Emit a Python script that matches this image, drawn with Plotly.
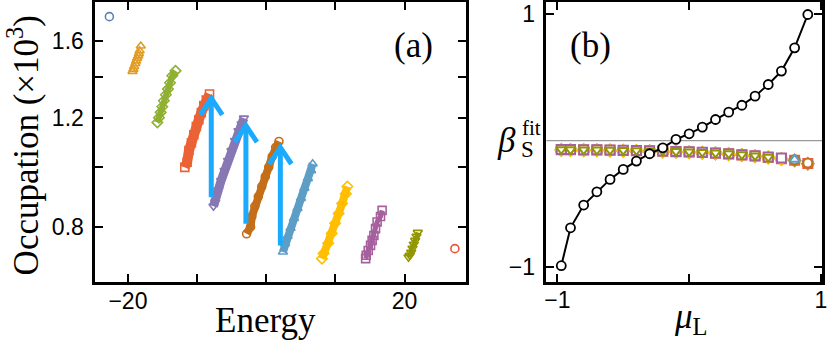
import plotly.graph_objects as go

# %% Panel (a) data: energy vs occupation (x10^3), one band per shell

colors = ["#5E81B5", "#E19C24", "#8FB032", "#EB6235", "#8778B3", "#C56E1A",
          "#5D9EC7", "#FFBF00", "#A5609D", "#929600", "#E95536"]
symbols = ["circle", "triangle-up", "diamond", "square", "triangle-down", "circle",
           "triangle-up", "diamond", "square", "triangle-down", "circle"]

energy_1 = [-22.68]
occ_1 = [1.751]

energy_2 = [-18.14, -18.31, -18.42, -18.52, -18.67, -18.81, -18.92, -19.10, -19.21, -19.33]
occ_2 = [1.570, 1.542, 1.526, 1.513, 1.500, 1.485, 1.471, 1.454, 1.440, 1.428]

energy_3 = [-13.12, -13.59, -13.91, -14.22, -14.51, -14.80, -15.03, -15.27, -15.51, -15.74]
occ_3 = [1.431, 1.405, 1.369, 1.337, 1.309, 1.280, 1.252, 1.226, 1.202, 1.181]

energy_4 = [-8.20, -8.67, -9.03, -9.39, -9.75, -10.11, -10.47, -10.82, -11.18, -11.44, -11.78]
occ_4 = [1.313, 1.284, 1.257, 1.225, 1.193, 1.163, 1.128, 1.095, 1.063, 1.018, 0.999]

energy_5 = [-3.23, -3.56, -4.01, -4.51, -5.02, -5.52, -6.02, -6.52, -6.95, -7.38, -7.63]
occ_5 = [1.200, 1.174, 1.145, 1.104, 1.063, 1.025, 0.987, 0.951, 0.917, 0.878, 0.864]

energy_6 = [1.84, 1.36, 0.86, 0.36, -0.14, -0.65, -1.15, -1.65, -2.08, -2.27, -2.84]
occ_6 = [1.100, 1.076, 1.040, 1.000, 0.965, 0.930, 0.896, 0.864, 0.832, 0.800, 0.780]

energy_7 = [6.71, 6.48, 6.02, 5.52, 5.02, 4.52, 4.01, 3.51, 3.08, 2.70, 2.41]
occ_7 = [1.012, 0.987, 0.958, 0.924, 0.890, 0.857, 0.826, 0.796, 0.773, 0.752, 0.729]

energy_8 = [11.73, 11.50, 10.97, 10.47, 9.96, 9.46, 8.96, 8.29, 8.06]
occ_8 = [0.930, 0.905, 0.873, 0.841, 0.811, 0.781, 0.753, 0.725, 0.711]

energy_9 = [16.75, 16.52, 16.03, 15.80, 15.56, 15.31, 15.08, 14.74, 14.45, 14.37]
occ_9 = [0.851, 0.832, 0.815, 0.795, 0.775, 0.761, 0.747, 0.733, 0.720, 0.711]

energy_10 = [21.91, 21.72, 21.53, 21.33, 21.15, 20.96, 20.76, 20.57]
occ_10 = [0.784, 0.773, 0.761, 0.750, 0.739, 0.728, 0.720, 0.715]

energy_11 = [27.27]
occ_11 = [0.738]

band_energy = [energy_1, energy_2, energy_3, energy_4, energy_5, energy_6,
               energy_7, energy_8, energy_9, energy_10, energy_11]
band_occ = [occ_1, occ_2, occ_3, occ_4, occ_5, occ_6,
            occ_7, occ_8, occ_9, occ_10, occ_11]
band_width = [0, 0, 6, 10, 9, 8, 8, 8, 5, 4, 0]

# blue arrows: energy, start occupation, tip occupation
arrow_energy = [-7.95, -2.94, 2.04]
arrow_start = [0.894, 0.810, 0.747]
arrow_tip = [1.292, 1.167, 1.076]

# %% Panel (b) data: beta_S^fit vs mu_L

mu_l = [-0.97, -0.9, -0.8, -0.7, -0.6, -0.5, -0.4, -0.3, -0.2, -0.1,
        0.0, 0.1, 0.2, 0.3, 0.4, 0.5, 0.6, 0.7, 0.8, 0.9]
beta_black = [-0.99, -0.69, -0.51, -0.405, -0.307, -0.228, -0.162, -0.104, -0.057, 0.01,
              0.054, 0.107, 0.167, 0.225, 0.28, 0.352, 0.444, 0.55, 0.734, 0.998]

beta_2 = [-0.076, -0.077, -0.078, -0.079, -0.080, -0.082, -0.084, -0.086, -0.088, -0.091,
          -0.094, -0.098, -0.103, -0.109, -0.116, -0.125, -0.136, -0.147, -0.160, -0.186]
beta_3 = [-0.074, -0.075, -0.076, -0.077, -0.078, -0.080, -0.082, -0.084, -0.086, -0.089,
          -0.092, -0.096, -0.101, -0.107, -0.114, -0.123, -0.134, -0.145, -0.157, -0.183]
beta_4 = [-0.072, -0.073, -0.074, -0.075, -0.077, -0.079, -0.081, -0.083, -0.085, -0.088,
          -0.091, -0.095, -0.100, -0.106, -0.113, -0.122, -0.133, -0.144, -0.155, -0.181]
beta_5 = [-0.071, -0.072, -0.073, -0.074, -0.076, -0.078, -0.080, -0.082, -0.084, -0.087,
          -0.090, -0.094, -0.099, -0.105, -0.112, -0.121, -0.132, -0.143, -0.154, -0.180]
beta_6 = [-0.070, -0.071, -0.072, -0.073, -0.075, -0.077, -0.079, -0.081, -0.083, -0.086,
          -0.089, -0.093, -0.098, -0.104, -0.111, -0.120, -0.131, -0.142, -0.152, -0.178]
beta_7 = [-0.069, -0.070, -0.071, -0.072, -0.074, -0.076, -0.078, -0.080, -0.082, -0.085,
          -0.088, -0.092, -0.097, -0.103, -0.110, -0.119, -0.130, -0.140, -0.149]
beta_8 = [-0.073, -0.074, -0.075, -0.076, -0.078, -0.080, -0.082, -0.084, -0.086, -0.089,
          -0.092, -0.096, -0.101, -0.107, -0.114, -0.123, -0.134, -0.146]
beta_9 = [-0.070, -0.071, -0.072, -0.073, -0.075, -0.077, -0.079, -0.081, -0.083, -0.086,
          -0.089, -0.093, -0.098, -0.104, -0.111, -0.120, -0.130, -0.138]
beta_10 = [-0.070, -0.071, -0.072, -0.073, -0.074, -0.076, -0.078, -0.080, -0.082, -0.085,
           -0.088, -0.092, -0.097, -0.103, -0.110, -0.119, -0.130]

beta_series = [beta_2, beta_3, beta_4, beta_5, beta_6, beta_7, beta_8, beta_9, beta_10]

# %% Figure

W, H = 831, 341
serif = "Liberation Serif"
sans = "Liberation Sans"
arrow_color = "#1AAAFF"

fig = go.Figure()

for i in range(len(band_energy)):
    lw = band_width[i]
    fig.add_trace(go.Scatter(
        x=band_energy[i], y=band_occ[i],
        mode="lines+markers" if lw > 0 else "markers",
        line={"color": colors[i], "width": lw},
        marker={"symbol": symbols[i] + "-open", "size": 8, "color": colors[i],
                "line": {"width": 1.6, "color": colors[i]}},
        showlegend=False, xaxis="x", yaxis="y",
    ))

# arrows: shaft plus open chevron at the tip
head_dx = 1.6
head_fac = 0.94
for e, y0, y1 in zip(arrow_energy, arrow_start, arrow_tip):
    fig.add_trace(go.Scatter(
        x=[e, e, None, e - head_dx, e, e + head_dx],
        y=[y0, y1, None, y1 * head_fac, y1, y1 * head_fac],
        mode="lines", line={"color": arrow_color, "width": 5},
        showlegend=False, xaxis="x", yaxis="y",
    ))

for j, beta in enumerate(beta_series):
    k = j + 1
    fig.add_trace(go.Scatter(
        x=mu_l[:len(beta)], y=beta, mode="markers",
        marker={"symbol": symbols[k], "size": 9, "color": "white",
                "line": {"width": 2, "color": colors[k]}},
        showlegend=False, xaxis="x2", yaxis="y2",
    ))

fig.add_trace(go.Scatter(
    x=mu_l, y=beta_black, mode="lines+markers",
    line={"color": "black", "width": 2},
    marker={"symbol": "circle", "size": 9, "color": "white",
            "line": {"width": 1.8, "color": "black"}},
    showlegend=False, xaxis="x2", yaxis="y2",
))

axis_common = dict(
    showline=True, linecolor="black", linewidth=2.5, mirror="allticks",
    ticks="inside", ticklen=8, tickwidth=2, tickcolor="black",
    showgrid=False, zeroline=False, ticklabeloverflow="allow",
    tickfont={"family": sans, "size": 23, "color": "black"},
)

fig.update_layout(
    width=W, height=H,
    margin={"l": 0, "r": 0, "t": 0, "b": 0},
    paper_bgcolor="white", plot_bgcolor="white",
    xaxis=dict(axis_common, domain=[94 / W, 468 / W], range=[-24.73, 28.89],
               tickvals=[-20, -10, 0, 10, 20], ticktext=["\u221220", " ", " ", " ", "20"],
               ticklabelstandoff=-4),
    yaxis=dict(axis_common, domain=[1 - 282 / H, 1 - 1.5 / H], type="log",
               range=[-0.1862, 0.2662],
               tickvals=[0.8, 1.0, 1.2, 1.4, 1.6], ticktext=["0.8", " ", "1.2", " ", "1.6"],
               ticklabelstandoff=4),
    xaxis2=dict(axis_common, domain=[549 / W, 827 / W], range=[-1.083, 1.008],
                tickvals=[-1, 0, 1], ticktext=["\u22121", " ", "1"], anchor="y2",
                ticklabelstandoff=-4),
    yaxis2=dict(axis_common, domain=[1 - 281.7 / H, 1 - 1.5 / H], range=[-1.118, 1.093],
                tickvals=[-1, 1], ticktext=["\u22121", "1"], anchor="x2",
                ticklabelstandoff=4),
)

fig.add_shape(type="line", xref="x2 domain", yref="y2", x0=0, x1=1, y0=0, y1=0,
              line={"color": "#999999", "width": 1.2}, layer="below")


def label(text, px, py, size, angle=0):
    fig.add_annotation(text=text, xref="paper", yref="paper", x=px / W, y=1 - py / H,
                       xanchor="center", yanchor="middle", showarrow=False, textangle=angle,
                       font={"family": serif, "size": size, "color": "black"})


label("Energy", 266, 320, 35)
label("Occupation (\u00d710<sup>3</sup>)", 22, 145, 35, angle=-90)
label("<i>\u03bc</i><sub>L</sub>", 695, 318, 35)
label("(a)", 415, 45, 35)
label("(b)", 593, 45, 35)
label("<i>\u03b2</i>", 509, 140, 35)
label("fit", 534, 127, 21)
label("S", 530, 149, 23)

fig.write_html("out.html", config={"displayModeBar": False},
               post_script="document.body.style.margin='0';")
